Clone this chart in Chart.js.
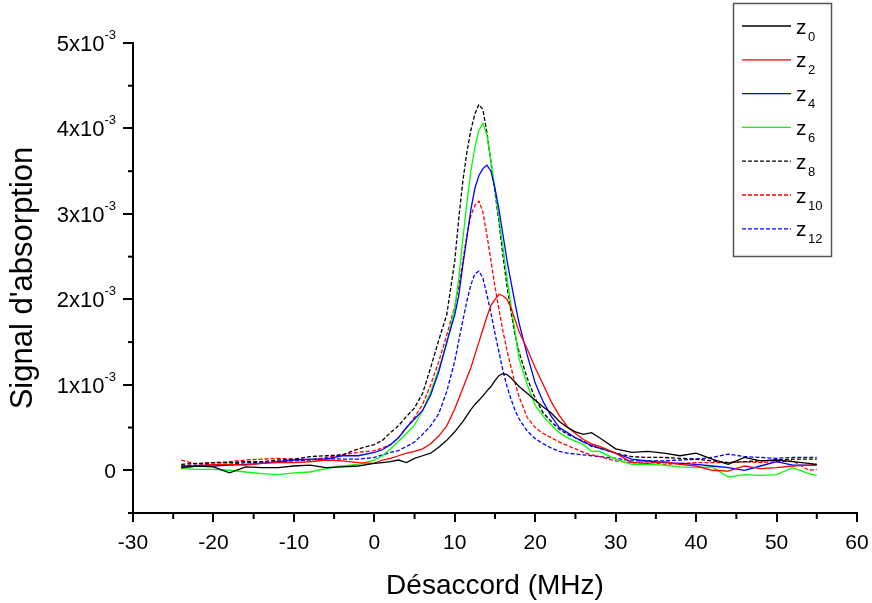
<!DOCTYPE html>
<html>
<head>
<meta charset="utf-8">
<script src="https://cdn.jsdelivr.net/npm/chart.js"></script>
<style>
  html, body { margin: 0; padding: 0; background: #fff; }
</style>
</head>
<body>
<canvas id="myChart" width="872" height="603"></canvas>
<script>
// detuning (MHz)
const detuning = [-24,-22,-20,-18,-16,-14,-12,-10,-8,-6,-4,-2,0,1,2,3,4,5,6,7,8,9,10,10.5,11,11.5,12,12.5,13,13.5,14,14.5,15,15.5,16,16.5,17,17.5,18,19,20,21,22,23,24,25,26,27,28,30,32,34,36,38,40,42,44,46,48,50,52,54,55];

// absorption signal, in units of 1e-3
const z0 = [.03,.05,.04,-.03,.04,.03,.03,.05,.06,.03,.04,.05,.08,.09,.1,.12,.09,.14,.17,.2,.27,.35,.45,.51,.57,.64,.71,.77,.82,.87,.93,.98,1.05,1.11,1.13,1.12,1.08,1.03,.98,.9,.82,.74,.67,.57,.5,.45,.42,.44,.38,.25,.21,.22,.2,.17,.2,.13,.07,.15,.11,.12,.1,.08,.07];
const z2 = [.03,.05,.07,.07,.06,.08,.09,.09,.1,.12,.11,.09,.08,.12,.14,.17,.2,.22,.25,.31,.4,.52,.72,.84,.96,1.08,1.2,1.35,1.5,1.65,1.8,1.93,2.0,2.06,2.04,2.0,1.9,1.76,1.62,1.42,1.2,1.0,.8,.64,.51,.43,.36,.31,.28,.2,.09,.08,.1,.07,.05,0,-.01,.05,.02,.03,.05,.06,.07];
const z4 = [.05,.05,.05,.06,.07,.08,.1,.12,.13,.13,.17,.17,.21,.24,.3,.38,.5,.6,.7,.88,1.15,1.5,1.82,2.05,2.4,2.72,3.05,3.3,3.45,3.53,3.57,3.5,3.3,3.05,2.75,2.45,2.2,1.95,1.72,1.35,1.02,.8,.63,.5,.44,.38,.33,.29,.26,.2,.13,.11,.09,.08,.07,.05,.03,0,.05,.1,.06,.06,.06];
const z6 = [.02,.01,.01,0,-.02,-.04,-.05,-.03,-.02,.02,.05,.07,.12,.17,.25,.34,.43,.53,.7,.92,1.18,1.48,1.9,2.25,2.7,3.13,3.5,3.78,3.98,4.06,3.92,3.62,3.29,2.95,2.6,2.25,1.92,1.62,1.3,1.0,.76,.63,.53,.44,.38,.34,.3,.22,.22,.13,.07,.07,.06,.04,.03,.04,-.08,-.05,-.06,-.05,.03,-.04,-.06];
const z8 = [.07,.08,.09,.09,.1,.1,.12,.13,.16,.17,.18,.25,.3,.35,.44,.52,.63,.73,.9,1.2,1.52,1.82,2.45,2.95,3.38,3.72,3.98,4.17,4.28,4.22,3.95,3.6,3.25,2.9,2.5,2.15,1.85,1.58,1.38,1.08,.84,.67,.57,.48,.42,.38,.34,.28,.26,.2,.16,.15,.15,.14,.13,.11,.09,.1,.11,.12,.13,.13,.13];
const z10 = [.12,.07,.09,.1,.12,.13,.14,.13,.12,.15,.18,.21,.23,.26,.3,.38,.5,.62,.77,1.0,1.27,1.58,1.92,2.15,2.45,2.75,2.98,3.1,3.15,3.02,2.75,2.45,2.15,1.88,1.62,1.4,1.2,1.02,.86,.62,.5,.43,.38,.33,.29,.25,.21,.18,.16,.11,.09,.1,.07,.08,.09,.09,.09,.1,.09,.1,.11,0,.01];
const z12 = [.05,.06,.07,.07,.09,.09,.1,.11,.12,.14,.13,.13,.15,.18,.21,.23,.28,.33,.42,.52,.66,.92,1.28,1.52,1.75,1.98,2.17,2.3,2.33,2.25,2.05,1.84,1.6,1.38,1.16,.98,.83,.7,.6,.46,.37,.31,.26,.22,.2,.19,.18,.17,.16,.14,.11,.11,.11,.12,.13,.15,.19,.16,.15,.14,.15,.15,.15];

const seriesNames = ['0','2','4','6','8','10','12'];
const yTickValues = [0,1,2,3,4,5];
const yExponent = '-3';

const FONT = '"Liberation Sans", Arial, sans-serif';
Chart.defaults.font.family = FONT;
Chart.defaults.color = '#000';

function pts(ys) { return detuning.map((x, i) => ({x: x, y: ys[i]})); }

function ds(ys, color, dashed) {
    return {
        data: pts(ys),
        borderColor: color,
        borderWidth: 1.3,
        borderDash: dashed ? [4, 2] : [],
        pointRadius: 0,
        tension: 0,
        fill: false
    };
}

// minor ticks + y labels with exponent + the boxed legend
const originStyle = {
    id: 'originStyle',
    afterDraw(chart) {
        const ctx = chart.ctx;
        const xs = chart.scales.x, ys = chart.scales.y;
        const area = chart.chartArea;
        ctx.save();
        ctx.strokeStyle = '#000';
        ctx.lineWidth = 2;
        // minor ticks
        for (let v = -25; v < 60; v += 10) {
            const px = xs.getPixelForValue(v);
            ctx.beginPath(); ctx.moveTo(px, area.bottom); ctx.lineTo(px, area.bottom + 6); ctx.stroke();
        }
        for (let v = -0.5; v < 5; v += 1) {
            const py = ys.getPixelForValue(v);
            ctx.beginPath(); ctx.moveTo(area.left, py); ctx.lineTo(area.left - 5, py); ctx.stroke();
        }
        // y tick labels
        ctx.fillStyle = '#000';
        ctx.textBaseline = 'alphabetic';
        const right = 116;
        yTickValues.forEach(v => {
            const py = ys.getPixelForValue(v);
            if (v === 0) {
                ctx.font = '21px ' + FONT;
                ctx.textAlign = 'right';
                ctx.fillText('0', right, py + 8);
                return;
            }
            ctx.font = '13px ' + FONT;
            const ew = ctx.measureText(yExponent).width;
            ctx.textAlign = 'left';
            ctx.fillText(yExponent, right - ew, py - 4);
            ctx.font = '22px ' + FONT;
            ctx.textAlign = 'right';
            ctx.fillText(v + 'x10', right - ew, py + 8);
        });
        // legend
        ctx.lineWidth = 1.5;
        ctx.strokeStyle = '#555';
        ctx.strokeRect(733.5, 3.5, 98, 253);
        chart.data.datasets.forEach((d, k) => {
            const ly = 26 + 33.8 * k;
            ctx.strokeStyle = d.borderColor;
            ctx.lineWidth = 1.3;
            ctx.setLineDash(d.borderDash);
            ctx.beginPath(); ctx.moveTo(742, ly); ctx.lineTo(791, ly); ctx.stroke();
            ctx.setLineDash([]);
            ctx.fillStyle = '#000';
            ctx.textAlign = 'left';
            ctx.font = '21px ' + FONT;
            ctx.fillText('z', 796, ly + 7.5);
            ctx.font = '13px ' + FONT;
            ctx.fillText(seriesNames[k], 808, ly + 14.5);
        });
        ctx.restore();
    }
};

const ctx = document.getElementById('myChart').getContext('2d');
const myChart = new Chart(ctx, {
    type: 'line',
    data: {
        datasets: [
            ds(z0, '#000000', false),
            ds(z2, '#ff0000', false),
            ds(z4, '#0000ff', false),
            ds(z6, '#00ff00', false),
            ds(z8, '#000000', true),
            ds(z10, '#ff0000', true),
            ds(z12, '#0000ff', true)
        ]
    },
    options: {
        responsive: false,
        animation: false,
        layout: { padding: { top: 43, right: 15, left: 0, bottom: 0 } },
        plugins: {
            legend: { display: false },
            tooltip: { enabled: false }
        },
        scales: {
            x: {
                type: 'linear',
                min: -30,
                max: 60,
                // small padding keeps the right edge at 60; lineHeight pushes labels down
                ticks: { stepSize: 10, font: { size: 21, lineHeight: 1.75 }, color: '#000', padding: 3, maxRotation: 0 },
                grid: { drawOnChartArea: false, drawTicks: true, tickLength: 9, tickWidth: 2, tickColor: '#000', lineWidth: 2 },
                border: { display: true, color: '#000', width: 2 },
                title: { display: true, text: 'Désaccord (MHz)', font: { size: 28 }, color: '#000', padding: { top: 5, bottom: 0 } },
                afterFit: s => { s.height = 90; }
            },
            y: {
                min: -0.5,
                max: 5,
                ticks: { stepSize: 1, includeBounds: false, display: false },
                grid: { drawOnChartArea: false, drawTicks: true, tickLength: 10, tickWidth: 2, tickColor: '#000', lineWidth: 2 },
                border: { display: true, color: '#000', width: 2 },
                title: { display: true, text: "Signal d'absorption", font: { size: 31 }, color: '#000', padding: { top: 5, bottom: 0 } },
                afterFit: s => { s.width = 133; }
            }
        }
    },
    plugins: [originStyle]
});
</script>
</body>
</html>
